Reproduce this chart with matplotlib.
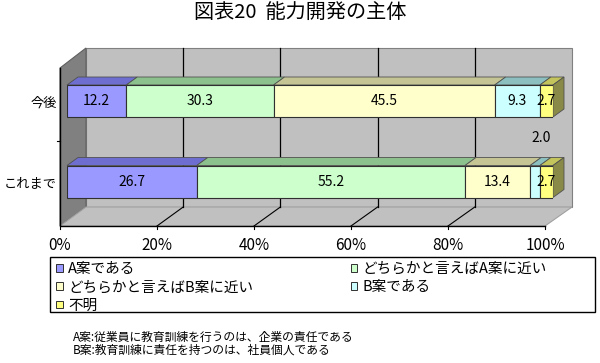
import numpy as np
import matplotlib.pyplot as plt
from matplotlib.patches import Polygon, Patch, Rectangle

# 日本語フォント
plt.rcParams['font.family'] = ['Noto Sans CJK JP', 'DejaVu Sans']

# --- データ ---
categories = ['これまで', '今後']
series = ['A案である', 'どちらかと言えばA案に近い', 'どちらかと言えばB案に近い',
          'B案である', '不明']
values_now = [26.7, 55.2, 13.4, 2.0, 2.7]      # これまで
values_future = [12.2, 30.3, 45.5, 9.3, 2.7]   # 今後
ticks = [0, 20, 40, 60, 80, 100]
title = '図表20  能力開発の主体'
notes = ['A案:従業員に教育訓練を行うのは、企業の責任である',
         'B案:教育訓練に責任を持つのは、社員個人である']

colors = ['#9999FF', '#CCFFCC', '#FFFFCC', '#CCFFFF', '#FFFF80']
top_colors = ['#6E6ED0', '#8CC08C', '#C4C494', '#8CC0C0', '#C4C45C']
side_color = '#8A8A48'

W, H = 600, 363
fig = plt.figure(figsize=(6, 3.63), dpi=100)
fig.patch.set_facecolor('white')

# 棒の前面: 0% -> 67px, 100% -> 553px
ax = fig.add_axes([67 / W, 1 - 226 / H, 486 / W, 178 / H])
sx = 100 / 486
sy = 1 / 80.5
ax.set_xlim(0, 100)
ax.set_ylim((181.5 - 226) * sy, (181.5 - 48) * sy)
ax.axis('off')


def X(px):
    return (px - 67) * sx


def Y(py):
    return (181.5 - py) * sy


# --- 3D風の壁と床 ---
ax.add_patch(Polygon([(X(86), Y(207)), (X(572), Y(207)), (X(572), Y(48)), (X(86), Y(48))],
                     closed=True, fc='#C0C0C0', ec='#808080', lw=0.8, clip_on=False, zorder=0))
ax.add_patch(Polygon([(X(60), Y(226)), (X(86), Y(207)), (X(86), Y(48)), (X(60), Y(68))],
                     closed=True, fc='#808080', ec='#606060', lw=0.8, clip_on=False, zorder=0))
ax.add_patch(Polygon([(X(60), Y(226)), (X(545), Y(226)), (X(572), Y(207)), (X(86), Y(207))],
                     closed=True, fc='#C0C0C0', ec='#A0A0A0', lw=0.8, clip_on=False, zorder=0))
# 軸線
ax.plot([X(60), X(60), X(545)], [Y(68), Y(226), Y(226)], color='black', lw=1.0,
        clip_on=False, zorder=1)

# 目盛線（奥の壁と床）
for v in ticks[1:-1]:
    xb = X(86 + v * 4.86)
    xf = X(60 + v * 4.85)
    ax.plot([xb, xb], [Y(48), Y(207)], color='black', lw=0.9, clip_on=False, zorder=1)
    ax.plot([xb, xf], [Y(207), Y(226)], color='black', lw=0.8, clip_on=False, zorder=1)
for v in ticks:
    xf = X(60 + v * 4.85)
    ax.plot([xf, xf], [Y(226), Y(229)], color='black', lw=0.8, clip_on=False, zorder=1)
    ax.text(xf, Y(246), f'{v}%', ha='center', va='center', fontsize=11, clip_on=False)

# y軸の目盛（カテゴリ境界）
ax.plot([X(57), X(60)], [0.5, 0.5], color='black', lw=0.8, clip_on=False)

# --- 積み上げ棒 ---
h = 32 * sy
ddx = 11 * sx
ddy = 8 * sy
for i, vals in enumerate([values_now, values_future]):
    left = 0
    for j, val in enumerate(vals):
        ax.barh(i, val, left=left, height=h, color=colors[j], edgecolor='#303030',
                lw=0.8, zorder=3)
        ax.add_patch(Polygon([(left, i + h / 2), (left + val, i + h / 2),
                              (left + val + ddx, i + h / 2 + ddy), (left + ddx, i + h / 2 + ddy)],
                             closed=True, fc=top_colors[j], ec='#505050', lw=0.6,
                             clip_on=False, zorder=2))
        cx = left + val / 2
        if val < 2.5:
            ax.text(cx + 0.6 * ddx, i + 44 * sy, f'{val:.1f}', ha='center', va='center',
                    fontsize=10, zorder=5)
        else:
            ax.text(cx, i, f'{val:.1f}', ha='center', va='center', fontsize=10, zorder=5)
        left += val
    ax.add_patch(Polygon([(left, i - h / 2), (left, i + h / 2),
                          (left + ddx, i + h / 2 + ddy), (left + ddx, i - h / 2 + ddy)],
                         closed=True, fc=side_color, ec='#505050', lw=0.6,
                         clip_on=False, zorder=2))

for i, cat in enumerate(categories):
    ax.text(X(57), i - 2 * sy, cat, ha='right', va='center', fontsize=9.5, clip_on=False)

# --- タイトル ---
fig.text(300 / W, 1 - 13 / H, title, ha='center', va='center', fontsize=14.5)

# --- 凡例 ---
fig.patches.append(Rectangle((50 / W, 1 - 312 / H), (595 - 50) / W, (312 - 257) / H,
                             transform=fig.transFigure, fc='white', ec='black', lw=1.0))
handles = [Patch(facecolor=c, edgecolor='#303030', lw=0.7) for c in colors]
order = [0, 2, 4, 1, 3]
fig.legend([handles[k] for k in order], [series[k] for k in order], ncol=2,
           loc='upper left', bbox_to_anchor=(56 / W, 1 - 262 / H), frameon=False,
           fontsize=10.5, handlelength=0.45, handleheight=0.45, handletextpad=0.4,
           borderpad=0.0, borderaxespad=0.0, labelspacing=0.3, columnspacing=6.65)

# --- 注記 ---
fig.text(73 / W, 1 - 337 / H, notes[0], ha='left', va='center', fontsize=8.5)
fig.text(73 / W, 1 - 350 / H, notes[1], ha='left', va='center', fontsize=8.5)

fig.savefig('out.png', dpi=100)
